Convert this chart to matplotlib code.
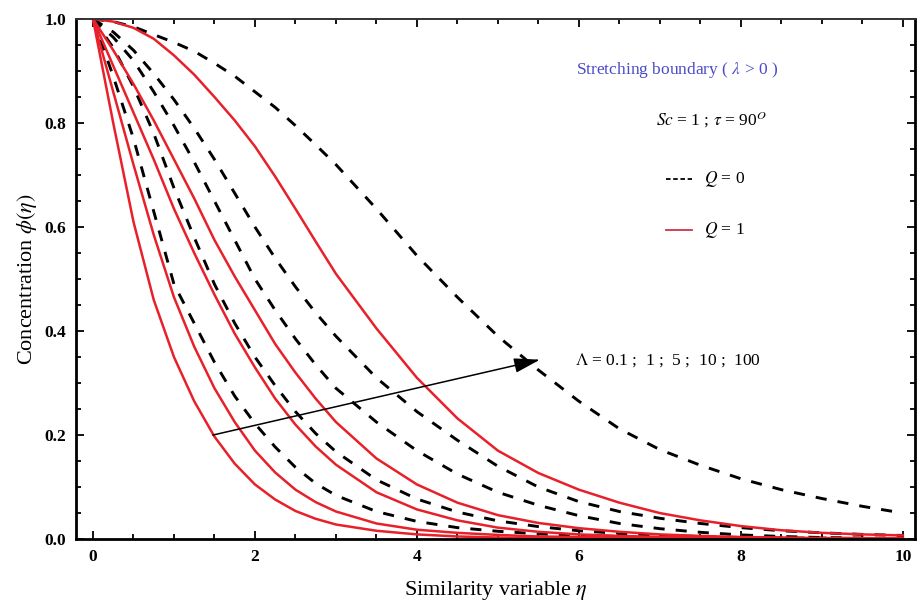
import matplotlib
matplotlib.use('Agg')
import matplotlib.pyplot as plt
from matplotlib.ticker import MultipleLocator

eta = [0, 0.25, 0.5, 0.75, 1, 1.25, 1.5, 1.75, 2, 2.25, 2.5, 2.75, 3,
       3.5, 4, 4.5, 5, 5.5, 6, 6.5, 7, 7.5, 8, 8.5, 9, 9.5, 10]

# Q = 0 (dashed), Lambda = 0.1, 1, 5, 10, 100
d1 = [1, 0.89, 0.77, 0.63, 0.49, 0.415, 0.34, 0.275, 0.222, 0.177, 0.138, 0.107, 0.084,
      0.053, 0.034, 0.022, 0.015, 0.01, 0.007, 0.005, 0.003, 0.002, 0.002, 0.001, 0.001, 0.001, 0.001]
d2 = [1, 0.945, 0.87, 0.78, 0.675, 0.58, 0.49, 0.415, 0.35, 0.295, 0.245, 0.203, 0.168,
      0.114, 0.077, 0.052, 0.035, 0.024, 0.016, 0.011, 0.007, 0.005, 0.003, 0.002, 0.002, 0.001, 0.001]
d3 = [1, 0.965, 0.92, 0.86, 0.795, 0.725, 0.65, 0.575, 0.5, 0.44, 0.385, 0.335, 0.29,
      0.225, 0.17, 0.125, 0.09, 0.065, 0.045, 0.03, 0.02, 0.013, 0.008, 0.005, 0.003, 0.002, 0.001]
d4 = [1, 0.975, 0.94, 0.895, 0.845, 0.79, 0.73, 0.665, 0.6, 0.54, 0.485, 0.435, 0.39,
      0.31, 0.245, 0.19, 0.14, 0.1, 0.072, 0.053, 0.04, 0.03, 0.022, 0.016, 0.012, 0.009, 0.007]
d5 = [1, 0.995, 0.985, 0.97, 0.955, 0.938, 0.915, 0.89, 0.86, 0.83, 0.795, 0.758, 0.72,
      0.635, 0.545, 0.465, 0.39, 0.325, 0.265, 0.212, 0.172, 0.142, 0.116, 0.095, 0.078, 0.063, 0.05]

# Q = 1 (solid red)
r1 = [1, 0.8, 0.61, 0.46, 0.35, 0.265, 0.197, 0.145, 0.105, 0.076, 0.054, 0.039, 0.028,
      0.016, 0.009, 0.005, 0.003, 0.002, 0.002, 0.001, 0.001, 0.001, 0.001, 0.001, 0.001, 0.001, 0.001]
r2 = [1, 0.86, 0.72, 0.585, 0.465, 0.37, 0.29, 0.225, 0.17, 0.128, 0.095, 0.071, 0.053,
      0.03, 0.018, 0.012, 0.008, 0.005, 0.004, 0.003, 0.002, 0.002, 0.001, 0.001, 0.001, 0.001, 0.001]
r3 = [1, 0.91, 0.82, 0.73, 0.635, 0.55, 0.47, 0.395, 0.33, 0.27, 0.22, 0.178, 0.143,
      0.09, 0.057, 0.036, 0.022, 0.014, 0.009, 0.006, 0.004, 0.003, 0.002, 0.002, 0.001, 0.001, 0.001]
r4 = [1, 0.94, 0.875, 0.805, 0.73, 0.655, 0.575, 0.505, 0.44, 0.375, 0.32, 0.27, 0.225,
      0.155, 0.105, 0.07, 0.046, 0.031, 0.021, 0.014, 0.009, 0.006, 0.004, 0.003, 0.002, 0.002, 0.001]
r5 = [1, 0.995, 0.983, 0.962, 0.93, 0.893, 0.85, 0.805, 0.755, 0.697, 0.635, 0.572, 0.51,
      0.405, 0.31, 0.232, 0.17, 0.127, 0.095, 0.07, 0.05, 0.036, 0.025, 0.017, 0.012, 0.009, 0.007]

dashed = [d1, d2, d3, d4, d5]
solid = [r1, r2, r3, r4, r5]

serif = ['Liberation Serif', 'DejaVu Serif']
plt.rcParams['font.family'] = serif
plt.rcParams['mathtext.fontset'] = 'stix'

fig = plt.figure(figsize=(9.21, 6.03), dpi=100)
ax = fig.add_axes([0.0825, 0.106, 0.911, 0.8625])

for c in dashed:
    ax.plot(eta, c, color='black', lw=2.1, linestyle=(0, (3.8, 3.8)))
for c in solid:
    ax.plot(eta, c, color='#e8202a', lw=1.8)

ax.set_xlim(-0.21, 10.15)
ax.set_ylim(0, 1)
ax.xaxis.set_minor_locator(MultipleLocator(0.5))
ax.yaxis.set_minor_locator(MultipleLocator(0.05))
ax.set_xticks([0, 2, 4, 6, 8, 10])
ax.set_xticklabels(['0', '2', '4', '6', '8', '10'])
ax.set_yticks([0, 0.2, 0.4, 0.6, 0.8, 1.0])
ax.set_yticklabels(['0.0', '0.2', '0.4', '0.6', '0.8', '1.0'])
ax.tick_params(which='both', direction='in', top=True, right=True, width=1.3)
ax.tick_params(which='major', length=6, labelsize=12.5, pad=7)
ax.tick_params(which='minor', length=3.5)
for lab in ax.get_xticklabels() + ax.get_yticklabels():
    lab.set_fontweight('bold')
for s in ax.spines.values():
    s.set_linewidth(2)
ax.spines['top'].set_linewidth(1.4)
ax.spines['top'].set_color('#333333')

ax.set_xlabel(r'Similarity variable $\eta$', fontsize=16, labelpad=10)
ax.set_ylabel(r'Concentration $\phi(\eta)$', fontsize=16, labelpad=4)

ax.text(5.97, 0.895, r'Stretching boundary ( $\lambda$ > 0 )', color='#4a4ac8', fontsize=12.5)
ax.text(6.95, 0.795, r'$Sc$ = 1 ; $\tau$ = 90$^{O}$', fontsize=12.5)
ax.plot([7.07, 7.4], [0.692, 0.692], color='black', lw=1.3, linestyle=(0, (2.5, 1.5)))
ax.text(7.55, 0.692, r'$Q$ = 0', fontsize=12.5, va='center')
ax.plot([7.07, 7.4], [0.595, 0.595], color='#d0304a', lw=1.3)
ax.text(7.55, 0.595, r'$Q$ = 1', fontsize=12.5, va='center')
ax.text(5.95, 0.345, r'$\Lambda$ = 0.1 ;  1 ;  5 ;  10 ;  100', fontsize=12.5, va='center')

ax.annotate('', xy=(5.52, 0.345), xytext=(1.48, 0.2),
            arrowprops=dict(arrowstyle='-|>,head_length=1.6,head_width=0.45',
                            color='black', lw=1.1, shrinkA=0, shrinkB=0))

fig.savefig('out.png', dpi=100)
